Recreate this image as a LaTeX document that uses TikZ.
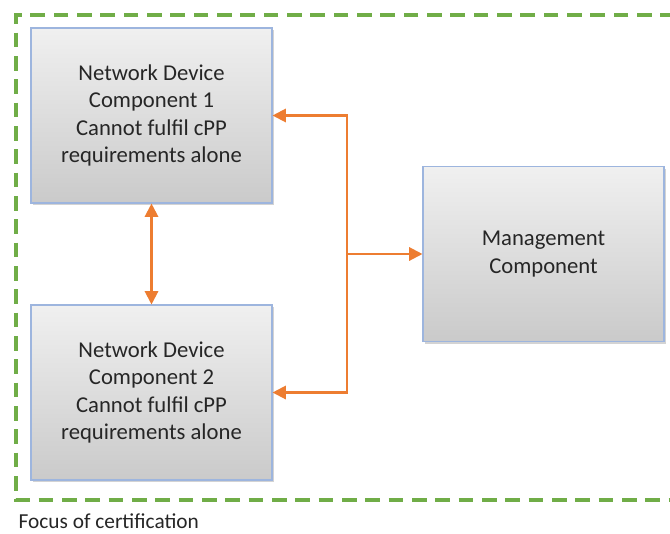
\documentclass[tikz,border=0pt]{standalone}
\usepackage{fontspec}
\setmainfont{Carlito}
\usetikzlibrary{arrows.meta,shadows}
\definecolor{boxline}{HTML}{9DB5DE}
\definecolor{linkorange}{HTML}{ED7D31}
\definecolor{focusgreen}{HTML}{70AD47}
\tikzset{
  compbox/.style={draw=boxline,line width=0.8pt,top color={rgb,255:red,240;green,240;blue,240},
    bottom color={rgb,255:red,202;green,202;blue,202},minimum width=180.75pt,minimum height=131.25pt,
    align=center,text=black!85,font=\fontsize{17}{20.6}\selectfont,
    drop shadow={shadow xshift=1.2pt,shadow yshift=-1.5pt,opacity=0.35}},
  link/.style={draw=linkorange,line width=1.6pt,>={Triangle[length=10pt,width=10pt]}}
}

\begin{document}
\begin{tikzpicture}[x=0.75pt,y=-0.75pt]
  \useasboundingbox (0,0) rectangle (670,533);
  % focus frame
  \draw[focusgreen,line width=2.6pt,dash pattern=on 11pt off 6.5pt] (675,15) -- (16,15) -- (16,500) -- (675,500);
  \node[anchor=west,font=\fontsize{16}{19}\selectfont,text=black!85] (focus) at (14,521) {Focus of certification};
  % components
  \node[compbox] (ndc1) at (151.5,115.5) {Network Device\\Component 1\\Cannot fulfil cPP\\requirements alone};
  \node[compbox] (ndc2) at (151.5,392.5) {Network Device\\Component 2\\Cannot fulfil cPP\\requirements alone};
  \node[compbox] (mgmt) at (543.5,254) {Management\\Component};
  % links
  \coordinate (split) at (347,254);
  \draw[link,<->] (ndc1.east) -| (split) |- (ndc2.east);
  \draw[link,->] (split) -- (mgmt.west);
  \draw[link,<->] (ndc1.south) -- (ndc2.north);
\end{tikzpicture}
\end{document}
